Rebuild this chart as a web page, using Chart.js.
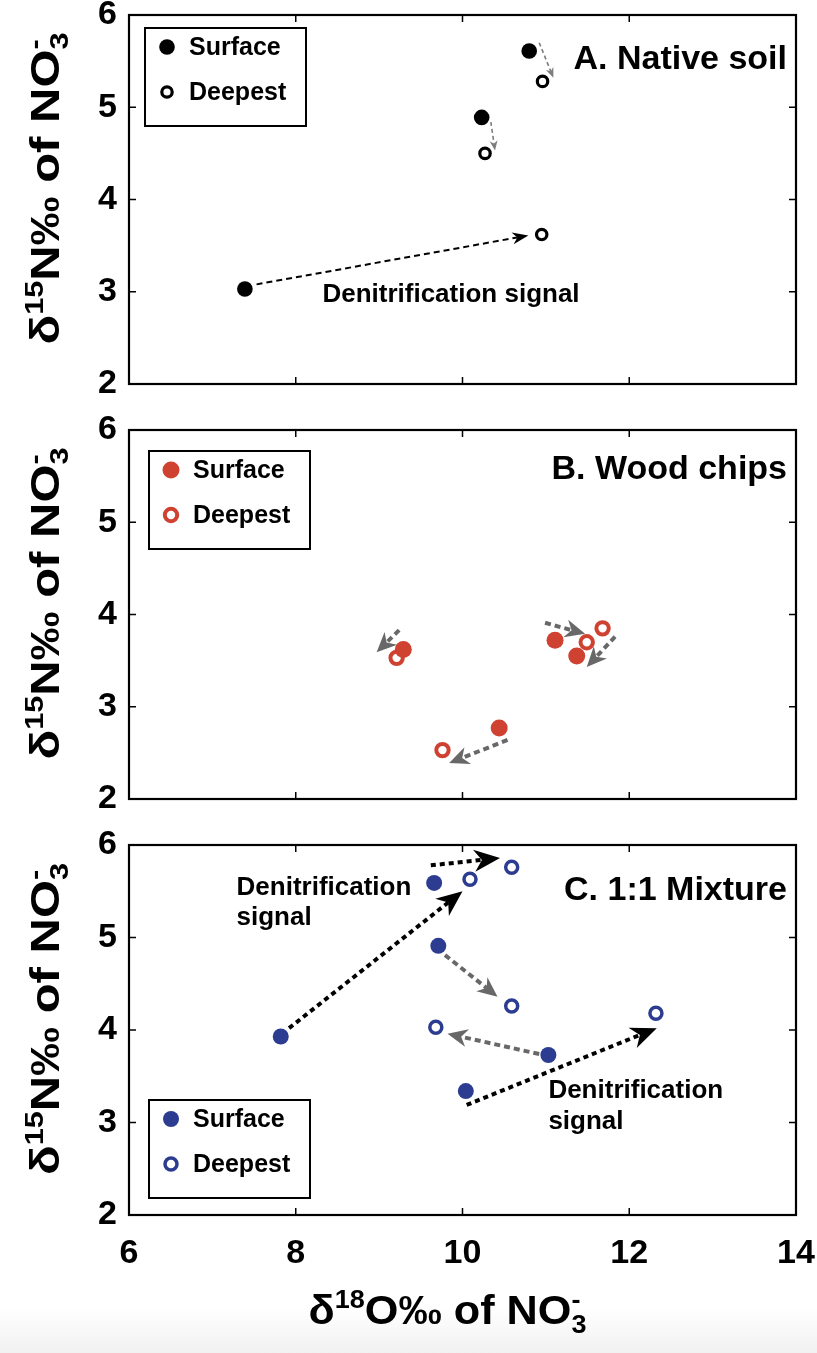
<!DOCTYPE html>
<html>
<head>
<meta charset="utf-8">
<script src="https://cdn.jsdelivr.net/npm/chart.js@4.4.1/dist/chart.umd.min.js"></script>
<style>
  body { margin: 0; background: #fff; }
  #page { position: relative; width: 817px; height: 1353px; overflow: hidden; }
  #page canvas { position: absolute; left: 0; }
  #shade { position: absolute; left: 0; top: 1308px; width: 817px; height: 45px; background: linear-gradient(#fff, #f1f1f1); }
</style>
</head>
<body>
<div id="page">
  <div id="shade"></div>
  <canvas id="soil" style="top:0px" width="817" height="400"></canvas>
  <canvas id="chips" style="top:415px" width="817" height="400"></canvas>
  <canvas id="mix" style="top:830px" width="817" height="523"></canvas>
</div>
<script>
const xTicks = [6, 8, 10, 12, 14];
const yTicks = [2, 3, 4, 5, 6];

// A. Native soil
const soilSurfaceX = [10.80, 10.23, 7.39];
const soilSurfaceY = [5.61, 4.89, 3.03];
const soilDeepestX = [10.96, 10.27, 10.95];
const soilDeepestY = [5.28, 4.50, 3.62];
const soilArrowsGray = [[10.92, 5.70, 11.09, 5.32], [10.34, 4.84, 10.39, 4.53]];
const soilArrowsBlack = [[7.53, 3.08, 10.79, 3.61]];

// B. Wood chips
const chipSurfaceX = [9.29, 11.11, 11.37, 10.44];
const chipSurfaceY = [3.62, 3.72, 3.55, 2.77];
const chipDeepestX = [9.21, 11.49, 11.68, 9.76];
const chipDeepestY = [3.53, 3.70, 3.85, 2.53];
const chipArrowsGray = [[9.24, 3.83, 8.97, 3.59], [10.99, 3.91, 11.47, 3.79],
                        [11.83, 3.76, 11.49, 3.43], [10.54, 2.64, 9.84, 2.39]];

// C. 1:1 Mixture
const mixSurfaceX = [9.66, 9.71, 7.82, 11.03, 10.04];
const mixSurfaceY = [5.59, 4.91, 3.93, 3.73, 3.34];
const mixDeepestX = [10.09, 10.59, 10.59, 9.68, 12.32];
const mixDeepestY = [5.63, 5.76, 4.26, 4.03, 4.18];
const mixArrowsBlack = [[7.92, 4.02, 10.00, 5.50], [9.62, 5.78, 10.45, 5.86], [10.05, 3.19, 12.33, 4.02]];
const mixArrowsGray = [[9.79, 4.81, 10.42, 4.36], [10.92, 3.74, 9.82, 3.96]];

const FONT = '"Liberation Sans", Arial, Helvetica, sans-serif';
const RED = '#cf4232';
const BLUE = '#2c3d91';

// axis titles with super/subscripts: [text, '' | 'sup' | 'sub' | 'stack']
const yTitleParts = [['δ', ''], ['15', 'sup'], ['N‰ of NO', ''], ['3', 'sub'], ['-', 'stack']];
const xTitleParts = [['δ', ''], ['18', 'sup'], ['O‰ of NO', ''], ['3', 'sub'], ['-', 'stack']];

function pts(xs, ys) {
  return xs.map((x, i) => ({ x: x, y: ys[i] }));
}

function surface(xs, ys, color, r) {
  return { label: 'Surface', data: pts(xs, ys), pointRadius: r, pointHoverRadius: r,
           backgroundColor: color, borderColor: color, borderWidth: 0 };
}
function deepest(xs, ys, color, r, bw) {
  return { label: 'Deepest', data: pts(xs, ys), pointRadius: r, pointHoverRadius: r,
           backgroundColor: '#fff', borderColor: color, borderWidth: bw };
}

function richText(ctx, parts, size, cx, cy, len, angle) {
  const small = Math.round(size * 0.62);
  const font = k => 'bold ' + (k ? small : size) + 'px ' + FONT;
  const pos = [];
  let w = 0;
  parts.forEach(p => {
    ctx.font = font(p[1]);
    if (p[1] === 'stack') { pos.push(pos[pos.length - 1]); return; }
    pos.push(w);
    w += ctx.measureText(p[0]).width;
  });
  ctx.save();
  ctx.translate(cx, cy);
  ctx.rotate(angle);
  ctx.scale(len / w, 1);
  ctx.fillStyle = '#000';
  ctx.textAlign = 'left';
  ctx.textBaseline = 'alphabetic';
  parts.forEach((p, i) => {
    ctx.font = font(p[1]);
    let dy = size * 0.36;
    if (p[1] === 'sup' || p[1] === 'stack') dy -= size * 0.42;
    if (p[1] === 'sub') dy += size * 0.22;
    ctx.fillText(p[0], pos[i] - w / 2, dy);
  });
  ctx.restore();
}

// dashed arrows, drawn under the points
const arrowPlugin = {
  id: 'arrows',
  beforeDatasetsDraw(chart, args, opts) {
    const { ctx, scales: { x, y } } = chart;
    (opts.groups || []).forEach(g => {
      g.data.forEach(a => {
        const x1 = x.getPixelForValue(a[0]), y1 = y.getPixelForValue(a[1]);
        const x2 = x.getPixelForValue(a[2]), y2 = y.getPixelForValue(a[3]);
        const ang = Math.atan2(y2 - y1, x2 - x1);
        const ux = Math.cos(ang), uy = Math.sin(ang);
        const L = g.head[0], W = g.head[1];
        const nx = x2 - ux * L * 0.7, ny = y2 - uy * L * 0.7;
        ctx.save();
        ctx.strokeStyle = g.color;
        ctx.fillStyle = g.color;
        ctx.lineWidth = g.width;
        ctx.setLineDash(g.dash);
        ctx.beginPath();
        ctx.moveTo(x1, y1);
        ctx.lineTo(nx, ny);
        ctx.stroke();
        ctx.setLineDash([]);
        ctx.beginPath();
        ctx.moveTo(x2, y2);
        ctx.lineTo(x2 - ux * L - uy * W, y2 - uy * L + ux * W);
        ctx.lineTo(nx, ny);
        ctx.lineTo(x2 - ux * L + uy * W, y2 - uy * L - ux * W);
        ctx.closePath();
        ctx.fill();
        ctx.restore();
      });
    });
  }
};

// box frame with inward ticks on all four sides, plus axis titles
const framePlugin = {
  id: 'frame',
  afterDraw(chart, args, opts) {
    const { ctx, chartArea: a, scales: { x, y } } = chart;
    ctx.save();
    ctx.strokeStyle = '#000';
    ctx.lineWidth = 1.5;
    ctx.beginPath();
    xTicks.slice(1, -1).forEach(v => {
      const px = x.getPixelForValue(v);
      ctx.moveTo(px, a.bottom); ctx.lineTo(px, a.bottom - 7);
      ctx.moveTo(px, a.top); ctx.lineTo(px, a.top + 7);
    });
    yTicks.slice(1, -1).forEach(v => {
      const py = y.getPixelForValue(v);
      ctx.moveTo(a.left, py); ctx.lineTo(a.left + 7, py);
      ctx.moveTo(a.right, py); ctx.lineTo(a.right - 7, py);
    });
    ctx.stroke();
    ctx.lineWidth = 2.2;
    ctx.strokeRect(a.left, a.top, a.right - a.left, a.bottom - a.top);
    ctx.restore();

    const midY = (a.top + a.bottom) / 2;
    richText(ctx, yTitleParts, 40, a.left - 84, midY - 11, 312, -Math.PI / 2);
    if (opts.xTitle) {
      richText(ctx, xTitleParts, 40, (a.left + a.right) / 2 - 15, a.bottom + 95, 278, 0);
    }
  }
};

// legend box inside the plot, built from the datasets
const boxLegendPlugin = {
  id: 'boxLegend',
  afterDraw(chart, args, opts) {
    const { ctx, chartArea: a } = chart;
    const bx = a.left + opts.x, by = a.top + opts.y;
    ctx.save();
    ctx.fillStyle = '#fff';
    ctx.fillRect(bx, by, 161, 98);
    ctx.strokeStyle = '#000';
    ctx.lineWidth = 2;
    ctx.strokeRect(bx, by, 161, 98);
    chart.data.datasets.forEach((ds, i) => {
      const cy = by + [19, 64][i];
      const r = ds.pointRadius;
      ctx.beginPath();
      ctx.arc(bx + 22, cy, r, 0, Math.PI * 2);
      ctx.fillStyle = ds.backgroundColor;
      ctx.fill();
      if (ds.borderWidth) {
        ctx.lineWidth = ds.borderWidth;
        ctx.strokeStyle = ds.borderColor;
        ctx.stroke();
      }
      ctx.fillStyle = '#000';
      ctx.font = 'bold 25px ' + FONT;
      ctx.textBaseline = 'middle';
      ctx.textAlign = 'left';
      ctx.fillText(ds.label, bx + 44, cy + 1);
    });
    ctx.restore();
  }
};

// panel title and text notes
const notesPlugin = {
  id: 'notes',
  afterDraw(chart, args, opts) {
    const { ctx, chartArea: a, scales: { x, y } } = chart;
    ctx.save();
    ctx.fillStyle = '#000';
    ctx.textBaseline = 'middle';
    ctx.font = 'bold 34px ' + FONT;
    ctx.textAlign = 'right';
    ctx.fillText(opts.title, a.right - 9, y.getPixelForValue(opts.titleY));
    ctx.font = 'bold 26px ' + FONT;
    ctx.textAlign = 'left';
    (opts.notes || []).forEach(n => {
      ctx.fillText(n.text, x.getPixelForValue(n.x), y.getPixelForValue(n.y));
    });
    ctx.restore();
  }
};

function makePanel(id, datasets, showX, extra) {
  return new Chart(document.getElementById(id), {
    type: 'scatter',
    data: { datasets: datasets },
    plugins: [arrowPlugin, framePlugin, boxLegendPlugin, notesPlugin],
    options: {
      responsive: false,
      animation: false,
      devicePixelRatio: 1,
      layout: { padding: { top: 15, right: 21, left: 0, bottom: showX ? 0 : 16 } },
      scales: {
        x: {
          type: 'linear', min: 6, max: 14, display: showX,
          afterBuildTicks: s => { s.ticks = xTicks.map(v => ({ value: v })); },
          ticks: { color: '#000', padding: 18, maxRotation: 0, font: { family: FONT, size: 34, weight: 'bold' } },
          grid: { display: false, drawTicks: false },
          border: { display: false },
          afterFit: s => { if (showX) { s.height = 138; s.paddingLeft = 0; s.paddingRight = 0; } }
        },
        y: {
          type: 'linear', min: 2, max: 6,
          afterBuildTicks: s => { s.ticks = yTicks.map(v => ({ value: v })); },
          ticks: { color: '#000', padding: 12, font: { family: FONT, size: 34, weight: 'bold' } },
          grid: { display: false, drawTicks: false },
          border: { display: false },
          afterFit: s => { s.width = 129; s.paddingTop = 0; s.paddingBottom = 0; }
        }
      },
      plugins: {
        legend: { display: false },
        tooltip: { enabled: false },
        arrows: { groups: extra.arrows },
        frame: { xTitle: showX },
        boxLegend: extra.legend,
        notes: extra.notes
      }
    }
  });
}

makePanel('soil', [
  surface(soilSurfaceX, soilSurfaceY, '#000', 7.8),
  deepest(soilDeepestX, soilDeepestY, '#000', 5.2, 3.2)
], false, {
  arrows: [
    { data: soilArrowsGray, color: '#7d7d7d', width: 1.6, dash: [4, 3], head: [10, 4] },
    { data: soilArrowsBlack, color: '#000', width: 2, dash: [6, 4], head: [16, 6] }
  ],
  legend: { x: 16, y: 13 },
  notes: { title: 'A. Native soil', titleY: 5.52, notes: [{ text: 'Denitrification signal', x: 8.32, y: 2.97 }] }
});

makePanel('chips', [
  surface(chipSurfaceX, chipSurfaceY, RED, 8.5),
  deepest(chipDeepestX, chipDeepestY, RED, 6.2, 4)
], false, {
  arrows: [
    { data: chipArrowsGray, color: '#686868', width: 4, dash: [6, 4], head: [20, 9] }
  ],
  legend: { x: 20, y: 21 },
  notes: { title: 'B. Wood chips', titleY: 5.57, notes: [] }
});

makePanel('mix', [
  surface(mixSurfaceX, mixSurfaceY, BLUE, 8),
  deepest(mixDeepestX, mixDeepestY, BLUE, 6, 3.5)
], true, {
  arrows: [
    { data: mixArrowsGray, color: '#686868', width: 4, dash: [6, 4], head: [20, 9] },
    { data: mixArrowsBlack, color: '#000', width: 4, dash: [5, 4], head: [26, 11] }
  ],
  legend: { x: 20, y: 255 },
  notes: { title: 'C. 1:1 Mixture', titleY: 5.51, notes: [
    { text: 'Denitrification', x: 7.29, y: 5.54 }, { text: 'signal', x: 7.29, y: 5.21 },
    { text: 'Denitrification', x: 11.03, y: 3.34 }, { text: 'signal', x: 11.03, y: 3.01 }
  ] }
});
</script>
</body>
</html>
